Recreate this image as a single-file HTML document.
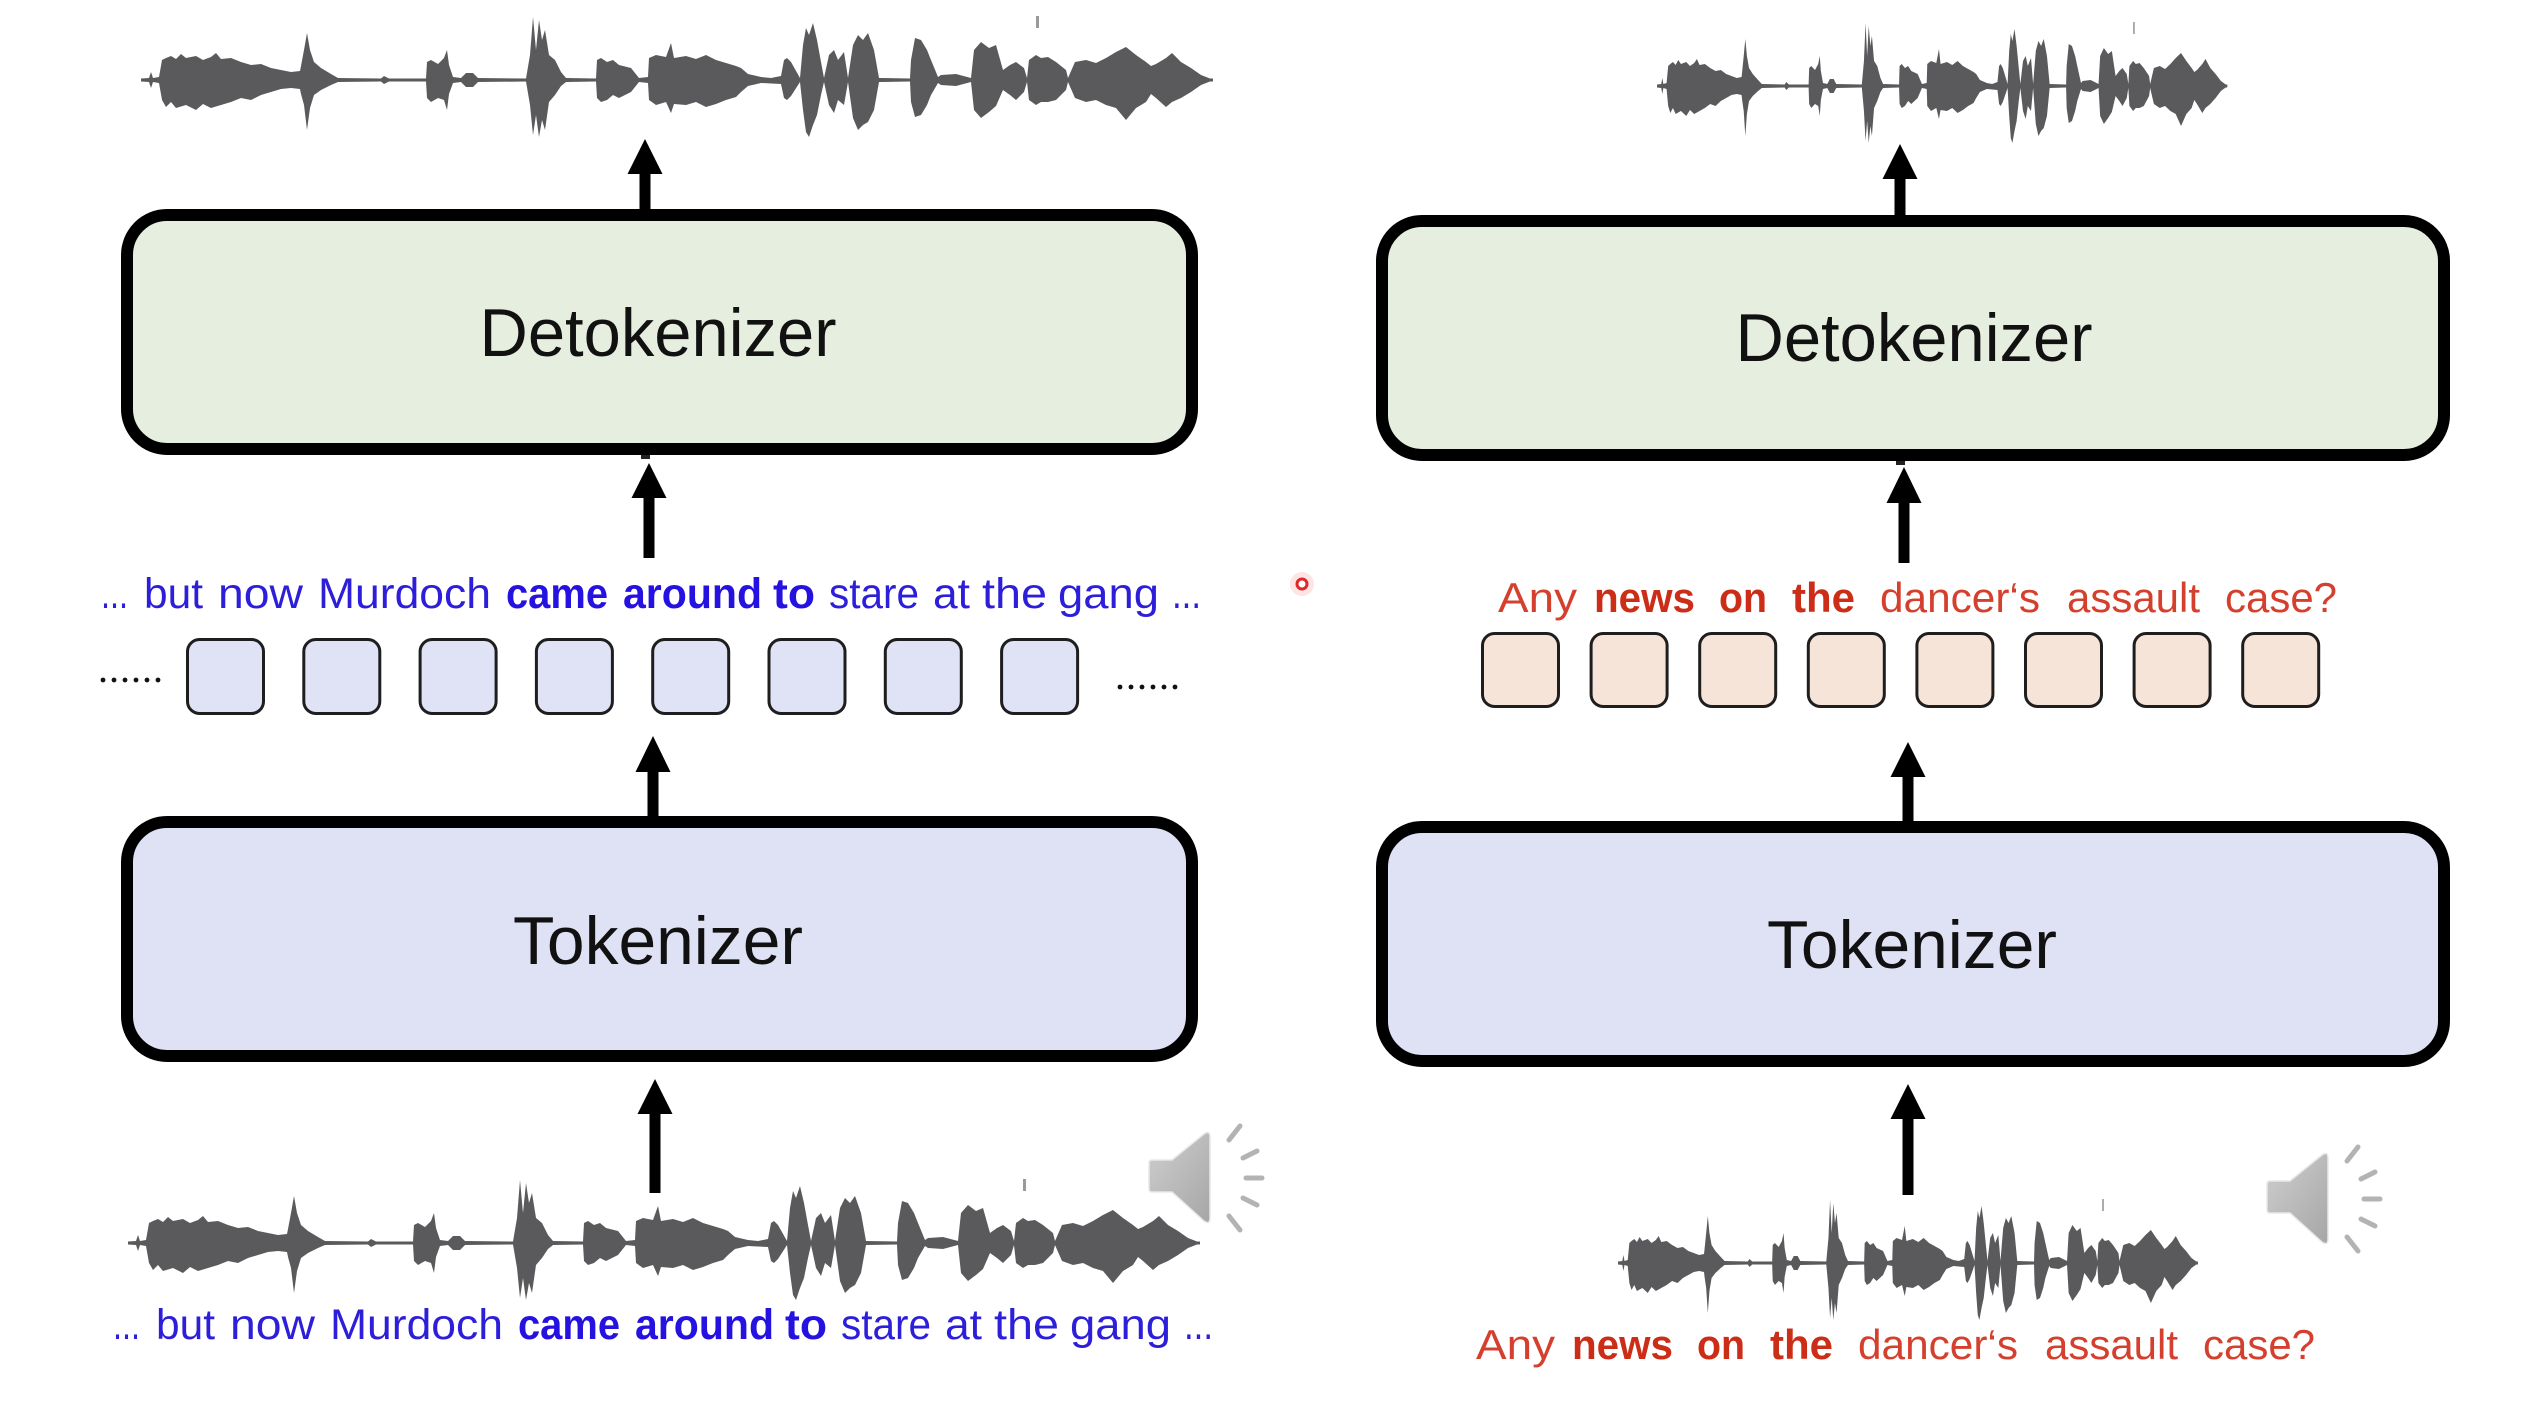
<!DOCTYPE html>
<html>
<head>
<meta charset="utf-8">
<style>
  html,body{margin:0;padding:0;background:#fff;}
  body{width:2540px;height:1426px;overflow:hidden;}
  svg{display:block;}
  .lbl{font-family:"Liberation Sans",Arial,sans-serif;font-size:68px;fill:#111;}
  .blue{font-family:"Liberation Sans",Arial,sans-serif;font-size:43px;fill:#2d1fd9;}
  .blueb{font-family:"Liberation Sans",Arial,sans-serif;font-size:43px;fill:#2612e0;font-weight:bold;}
  .red{font-family:"Liberation Sans",Arial,sans-serif;font-size:42px;fill:#d5402e;}
  .redb{font-family:"Liberation Sans",Arial,sans-serif;font-size:42px;fill:#cc2d17;font-weight:bold;}
</style>
</head>
<body>
<svg width="2540" height="1426" viewBox="0 0 2540 1426" xmlns="http://www.w3.org/2000/svg">
  <defs>
    <g id="wave">
      <polygon fill="#5a5a5d" points="0,-1.5 8,-2 10,-8 12,-2 18,-3 21,-20 25,-22 30,-24 35,-21 40,-26 45,-22 55,-24 62,-20 70,-23 75,-27 80,-21 90,-22 100,-18 110,-15 120,-16 130,-12 140,-10 150,-8 159,-9 160,-14 163,-30 166,-47 169,-30 173,-18 180,-12 190,-6 197,-2 240,-1.5 243,-4 248,-1.5 285,-1.5 286,-18 290,-20 297,-16 303,-22 306,-30 308,-15 312,-3 320,-2 325,-7 332,-7 337,-2 385,-1.5 389,-25 392,-63 395,-30 398,-60 401,-40 404,-50 408,-25 414,-20 420,-8 425,-2 455,-1.5 456,-20 460,-22 466,-18 472,-20 478,-15 490,-12 498,-2 507,-3 508,-22 515,-25 525,-23 530,-37 533,-22 545,-24 555,-21 565,-25 575,-20 585,-17 595,-14 600,-12 607,-6 620,-3 630,-2 640,-4 643,-20 646,-22 650,-18 659,-2 662,-35 665,-52 668,-45 672,-57 676,-40 680,-18 683,-2 688,-25 693,-30 697,-20 703,-28 707,-2 712,-35 717,-45 722,-40 727,-47 733,-30 738,-2 769,-1.5 770,-20 774,-42 780,-40 786,-30 790,-20 797,-3 800,-5 815,-6 830,-2 833,-30 840,-38 848,-32 855,-35 862,-10 869,-15 875,-18 883,-12 886,-2 888,-20 895,-25 900,-22 907,-23 915,-18 925,-10 927,-2 934,-18 945,-20 955,-17 965,-22 975,-28 985,-33 995,-25 1005,-18 1010,-14 1015,-16 1025,-22 1031,-27 1040,-18 1050,-12 1060,-5 1069,-1.5 1072,0 1069,1.5 1060,5 1050,12 1040,18 1031,22 1025,27 1015,18 1010,14 1005,22 995,28 985,40 975,28 965,25 955,20 945,22 934,18 927,2 925,10 915,20 907,22 900,22 895,25 888,20 886,2 883,12 875,20 869,15 862,10 855,26 848,32 840,38 833,30 830,2 815,6 800,5 797,3 790,15 786,25 780,35 774,37 770,22 769,1.5 738,2 733,30 727,42 722,45 717,50 712,38 707,2 703,25 697,20 693,33 688,25 683,2 680,15 676,35 672,45 668,57 665,52 662,30 659,2 650,16 646,20 643,18 640,4 620,3 607,6 600,12 595,17 585,20 575,24 565,27 555,22 545,25 533,24 530,33 525,22 515,25 508,20 507,3 498,2 490,12 478,18 472,15 466,20 460,22 456,18 455,1.5 425,2 420,6 414,15 408,22 404,50 401,40 398,57 395,35 392,55 389,25 385,1.5 337,2 332,7 325,7 320,2 312,3 308,14 306,30 303,20 297,18 290,22 286,18 285,1.5 248,1.5 243,4 240,1.5 197,2 190,5 180,10 173,15 169,28 166,50 163,25 160,14 159,9 150,8 140,9 130,12 120,15 110,20 100,18 90,22 80,25 70,28 62,24 55,30 45,25 35,28 30,22 25,27 21,20 18,3 12,2 10,8 8,2 0,1.5"/>
      <rect x="895" y="-64" width="3" height="12" fill="#9a9a9a"/>
      <rect x="0" y="-1.5" width="1072" height="3" fill="#5a5a5d"/>
    </g>
    <linearGradient id="spk" x1="0" y1="0" x2="1" y2="1">
      <stop offset="0" stop-color="#cfcfcf"/>
      <stop offset="1" stop-color="#a6a6a6"/>
    </linearGradient>
    <g id="speaker">
      <path d="M1149,1163 q0,-3 3,-3 L1172,1160 L1204,1134 q6,-4 6,3 L1210,1218 q0,7 -6,3 L1172,1192 L1152,1192 q-3,0 -3,-3 Z" fill="url(#spk)" stroke="#e8e8e8" stroke-width="1.5"/>
      <g stroke="#b3b3b3" stroke-width="5" stroke-linecap="round">
        <line x1="1229" y1="1140" x2="1240" y2="1126"/>
        <line x1="1243" y1="1158" x2="1257" y2="1151"/>
        <line x1="1246" y1="1178" x2="1262" y2="1178"/>
        <line x1="1243" y1="1198" x2="1257" y2="1205"/>
        <line x1="1229" y1="1216" x2="1240" y2="1230"/>
      </g>
    </g>
  </defs>

  <rect width="2540" height="1426" fill="#ffffff"/>

  <!-- Waveforms -->
  <use href="#wave" transform="translate(141,80)"/>
  <use href="#wave" transform="translate(128,1243)"/>
  <use href="#wave" transform="translate(1657,86) scale(0.532,1)"/>
  <use href="#wave" transform="translate(1618,1263) scale(0.541,1)"/>

  <!-- Speakers -->
  <use href="#speaker"/>
  <use href="#speaker" transform="translate(1118,21)"/>

  <!-- Boxes -->
  <rect x="127" y="215" width="1065" height="234" rx="40" ry="40" fill="#e6efdf" stroke="#000" stroke-width="12"/>
  <rect x="127" y="822" width="1065" height="234" rx="40" ry="40" fill="#dfe2f5" stroke="#000" stroke-width="12"/>
  <rect x="1382" y="221" width="1062" height="234" rx="40" ry="40" fill="#e6efdf" stroke="#000" stroke-width="12"/>
  <rect x="1382" y="827" width="1062" height="234" rx="40" ry="40" fill="#dfe2f5" stroke="#000" stroke-width="12"/>

  <!-- small stubs under detokenizer -->
  <rect x="641" y="455" width="9" height="4" fill="#222"/>
  <rect x="1896" y="461" width="9" height="4" fill="#222"/>

  <!-- Box labels -->
  <text class="lbl" x="658" y="356" text-anchor="middle" textLength="357" lengthAdjust="spacingAndGlyphs">Detokenizer</text>
  <text class="lbl" x="658" y="964" text-anchor="middle" textLength="290" lengthAdjust="spacingAndGlyphs">Tokenizer</text>
  <text class="lbl" x="1914" y="361" text-anchor="middle" textLength="357" lengthAdjust="spacingAndGlyphs">Detokenizer</text>
  <text class="lbl" x="1912" y="968" text-anchor="middle" textLength="290" lengthAdjust="spacingAndGlyphs">Tokenizer</text>

  <!-- Arrows -->
  <g fill="#000">
    <polygon points="645,139 662.5,174 650.5,174 650.5,212 639.5,212 639.5,174 627.5,174"/>
    <polygon points="649,463 666.5,498 654.5,498 654.5,558 643.5,558 643.5,498 631.5,498"/>
    <polygon points="653,736 670.5,772 658.5,772 658.5,819 647.5,819 647.5,772 635.5,772"/>
    <polygon points="655,1079 672.5,1114 660.5,1114 660.5,1193 649.5,1193 649.5,1114 637.5,1114"/>
    <polygon points="1900,144 1917.5,179 1905.5,179 1905.5,218 1894.5,218 1894.5,179 1882.5,179"/>
    <polygon points="1904,467 1921.5,503 1909.5,503 1909.5,563 1898.5,563 1898.5,503 1886.5,503"/>
    <polygon points="1908,742 1925.5,777 1913.5,777 1913.5,824 1902.5,824 1902.5,777 1890.5,777"/>
    <polygon points="1908,1084 1925.5,1119 1913.5,1119 1913.5,1195 1902.5,1195 1902.5,1119 1890.5,1119"/>
  </g>

  <!-- Token boxes left -->
  <g fill="#e0e2f5" stroke="#1e1e1e" stroke-width="3">
    <rect x="187.5" y="639.5" width="76" height="74" rx="12"/>
    <rect x="303.8" y="639.5" width="76" height="74" rx="12"/>
    <rect x="420.1" y="639.5" width="76" height="74" rx="12"/>
    <rect x="536.4" y="639.5" width="76" height="74" rx="12"/>
    <rect x="652.7" y="639.5" width="76" height="74" rx="12"/>
    <rect x="769.0" y="639.5" width="76" height="74" rx="12"/>
    <rect x="885.3" y="639.5" width="76" height="74" rx="12"/>
    <rect x="1001.6" y="639.5" width="76" height="74" rx="12"/>
  </g>
  <!-- Token boxes right -->
  <g fill="#f7e4d9" stroke="#1e1e1e" stroke-width="3">
    <rect x="1482.5" y="633.5" width="76" height="73" rx="12"/>
    <rect x="1591.1" y="633.5" width="76" height="73" rx="12"/>
    <rect x="1699.7" y="633.5" width="76" height="73" rx="12"/>
    <rect x="1808.3" y="633.5" width="76" height="73" rx="12"/>
    <rect x="1916.9" y="633.5" width="76" height="73" rx="12"/>
    <rect x="2025.5" y="633.5" width="76" height="73" rx="12"/>
    <rect x="2134.1" y="633.5" width="76" height="73" rx="12"/>
    <rect x="2242.7" y="633.5" width="76" height="73" rx="12"/>
  </g>

  <!-- dots -->
  <g fill="#111">
    <circle cx="103" cy="680" r="2.4"/><circle cx="114" cy="680" r="2.4"/><circle cx="125" cy="680" r="2.4"/>
    <circle cx="136" cy="680" r="2.4"/><circle cx="147" cy="680" r="2.4"/><circle cx="158" cy="680" r="2.4"/>
    <circle cx="1120" cy="687" r="2.4"/><circle cx="1131" cy="687" r="2.4"/><circle cx="1142" cy="687" r="2.4"/>
    <circle cx="1153" cy="687" r="2.4"/><circle cx="1164" cy="687" r="2.4"/><circle cx="1175" cy="687" r="2.4"/>
  </g>

  <!-- red pointer dot -->
  <circle cx="1302" cy="584" r="12" fill="#fbd3d3" opacity="0.6"/>
  <circle cx="1302" cy="584" r="5" fill="#fff" stroke="#e02828" stroke-width="3"/>

  <!-- Blue text top -->
  <g>
    <text class="blue" x="101" y="608" textLength="27" lengthAdjust="spacingAndGlyphs">...</text>
    <text class="blue" x="144" y="608" textLength="59" lengthAdjust="spacingAndGlyphs">but</text>
    <text class="blue" x="218" y="608" textLength="85" lengthAdjust="spacingAndGlyphs">now</text>
    <text class="blue" x="318" y="608" textLength="173" lengthAdjust="spacingAndGlyphs">Murdoch</text>
    <text class="blueb" x="506" y="608" textLength="102" lengthAdjust="spacingAndGlyphs">came</text>
    <text class="blueb" x="623" y="608" textLength="139" lengthAdjust="spacingAndGlyphs">around</text>
    <text class="blueb" x="773" y="608" textLength="42" lengthAdjust="spacingAndGlyphs">to</text>
    <text class="blue" x="829" y="608" textLength="90" lengthAdjust="spacingAndGlyphs">stare</text>
    <text class="blue" x="933" y="608" textLength="37" lengthAdjust="spacingAndGlyphs">at</text>
    <text class="blue" x="982" y="608" textLength="65" lengthAdjust="spacingAndGlyphs">the</text>
    <text class="blue" x="1058" y="608" textLength="101" lengthAdjust="spacingAndGlyphs">gang</text>
    <text class="blue" x="1172" y="608" textLength="29" lengthAdjust="spacingAndGlyphs">...</text>
  </g>
  <!-- Blue text bottom -->
  <g>
    <text class="blue" x="113" y="1339" textLength="27" lengthAdjust="spacingAndGlyphs">...</text>
    <text class="blue" x="156" y="1339" textLength="59" lengthAdjust="spacingAndGlyphs">but</text>
    <text class="blue" x="230" y="1339" textLength="85" lengthAdjust="spacingAndGlyphs">now</text>
    <text class="blue" x="330" y="1339" textLength="173" lengthAdjust="spacingAndGlyphs">Murdoch</text>
    <text class="blueb" x="518" y="1339" textLength="102" lengthAdjust="spacingAndGlyphs">came</text>
    <text class="blueb" x="635" y="1339" textLength="139" lengthAdjust="spacingAndGlyphs">around</text>
    <text class="blueb" x="785" y="1339" textLength="42" lengthAdjust="spacingAndGlyphs">to</text>
    <text class="blue" x="841" y="1339" textLength="90" lengthAdjust="spacingAndGlyphs">stare</text>
    <text class="blue" x="945" y="1339" textLength="37" lengthAdjust="spacingAndGlyphs">at</text>
    <text class="blue" x="994" y="1339" textLength="65" lengthAdjust="spacingAndGlyphs">the</text>
    <text class="blue" x="1070" y="1339" textLength="101" lengthAdjust="spacingAndGlyphs">gang</text>
    <text class="blue" x="1184" y="1339" textLength="29" lengthAdjust="spacingAndGlyphs">...</text>
  </g>

  <!-- Red text top -->
  <g>
    <text class="red" x="1498" y="612" textLength="79" lengthAdjust="spacingAndGlyphs">Any</text>
    <text class="redb" x="1594" y="612" textLength="101" lengthAdjust="spacingAndGlyphs">news</text>
    <text class="redb" x="1719" y="612" textLength="48" lengthAdjust="spacingAndGlyphs">on</text>
    <text class="redb" x="1792" y="612" textLength="63" lengthAdjust="spacingAndGlyphs">the</text>
    <text class="red" x="1880" y="612" textLength="160" lengthAdjust="spacingAndGlyphs">dancer‘s</text>
    <text class="red" x="2067" y="612" textLength="133" lengthAdjust="spacingAndGlyphs">assault</text>
    <text class="red" x="2225" y="612" textLength="112" lengthAdjust="spacingAndGlyphs">case?</text>
  </g>
  <!-- Red text bottom -->
  <g>
    <text class="red" x="1476" y="1359" textLength="79" lengthAdjust="spacingAndGlyphs">Any</text>
    <text class="redb" x="1572" y="1359" textLength="101" lengthAdjust="spacingAndGlyphs">news</text>
    <text class="redb" x="1697" y="1359" textLength="48" lengthAdjust="spacingAndGlyphs">on</text>
    <text class="redb" x="1770" y="1359" textLength="63" lengthAdjust="spacingAndGlyphs">the</text>
    <text class="red" x="1858" y="1359" textLength="160" lengthAdjust="spacingAndGlyphs">dancer‘s</text>
    <text class="red" x="2045" y="1359" textLength="133" lengthAdjust="spacingAndGlyphs">assault</text>
    <text class="red" x="2203" y="1359" textLength="112" lengthAdjust="spacingAndGlyphs">case?</text>
  </g>
</svg>
</body>
</html>
